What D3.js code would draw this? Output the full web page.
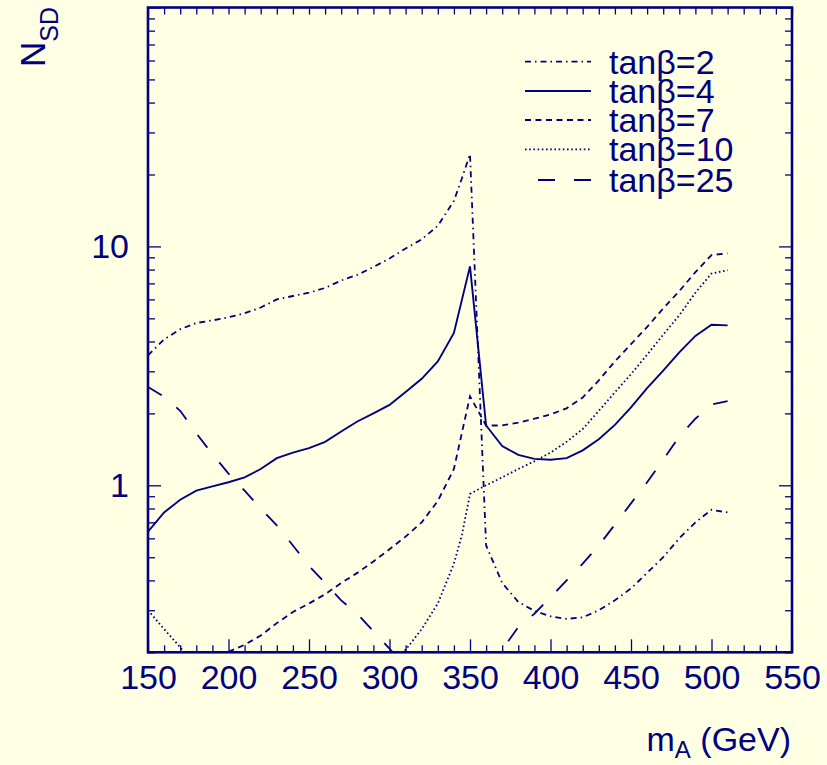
<!DOCTYPE html>
<html>
<head>
<meta charset="utf-8">
<script src="https://cdn.jsdelivr.net/npm/d3@7"></script>
<style>
  html, body { margin: 0; padding: 0; background: #ffffe4; }
  svg { display: block; }
  text { font-family: "Liberation Sans", Arial, Helvetica, sans-serif; fill: #000080; }
</style>
</head>
<body>
<svg id="chart" width="827" height="765"></svg>
<script>
// ---------- data ----------
const xTicksMajor = [150, 200, 250, 300, 350, 400, 450, 500, 550];
const yTicksMajor = [1, 10, 100];
const yTickLabels = ["1", "10", ""];

const tb2_mA = [150,160,170,180,190,200,210,220,230,240,250,260,270,280,290,300,310,320,330,340,345,350,360,370,380,390,400,410,420,430,440,450,460,470,480,490,500,510];
const tb2_N  = [3.5,4.08,4.5,4.78,4.9,5.05,5.25,5.55,6.0,6.2,6.4,6.7,7.2,7.6,8.2,8.9,9.8,10.7,12.2,15.5,19.3,24.3,0.56,0.39,0.325,0.298,0.283,0.276,0.28,0.30,0.33,0.37,0.43,0.5,0.6,0.7,0.79,0.77];

const tb4_mA = [150,160,170,180,190,200,210,220,230,240,250,260,270,280,290,300,310,320,330,340,350,360,370,380,390,400,410,420,430,440,450,460,470,480,490,500,510];
const tb4_N  = [0.64,0.77,0.87,0.95,0.99,1.03,1.08,1.17,1.3,1.37,1.43,1.52,1.68,1.85,2.0,2.17,2.46,2.79,3.3,4.34,8.25,1.78,1.46,1.34,1.29,1.28,1.30,1.40,1.56,1.79,2.12,2.55,3.02,3.6,4.22,4.7,4.67];

const tb7_mA = [200,210,220,230,240,250,260,270,280,290,300,310,320,330,340,350,360,370,380,390,400,410,420,430,440,450,460,470,480,490,500,510];
const tb7_N  = [0.201,0.215,0.235,0.265,0.295,0.32,0.35,0.39,0.43,0.48,0.54,0.61,0.70,0.86,1.17,2.36,1.78,1.78,1.83,1.9,1.98,2.1,2.33,2.75,3.3,3.9,4.6,5.5,6.5,7.8,9.2,9.35];

const tb10_mA = [150,160,170,175,305,310,320,330,340,345,350,360,370,380,390,400,410,420,430,440,450,460,470,480,490,500,510];
const tb10_N  = [0.30,0.25,0.21,0.19,0.19,0.205,0.25,0.32,0.47,0.62,0.92,1.0,1.08,1.17,1.26,1.37,1.52,1.72,2.05,2.45,2.92,3.52,4.27,5.15,6.4,7.7,7.95];

const tb25_mA = [150,160,170,180,190,200,210,220,230,240,250,260,270,280,290,300,305,365,370,380,390,400,410,420,430,440,450,460,470,480,490,500,510];
const tb25_N  = [2.58,2.35,2.05,1.65,1.35,1.12,0.95,0.8,0.68,0.56,0.46,0.39,0.33,0.29,0.245,0.207,0.19,0.185,0.205,0.255,0.29,0.34,0.40,0.47,0.56,0.685,0.84,1.03,1.28,1.6,1.9,2.18,2.25];

const seriesLabels = ["tanβ=2", "tanβ=4", "tanβ=7", "tanβ=10", "tanβ=25"];

// ---------- layout ----------
const col = "#000080";
const L = 148, R = 792, T = 7.5, B = 652.3;
const svg = d3.select("#chart");
svg.append("rect").attr("width", 827).attr("height", 765).attr("fill", "#ffffe4");

const x = d3.scaleLinear().domain([150, 550]).range([L, R]);
const y = d3.scaleLog().domain([0.2, 100]).range([B, T]);

svg.append("defs").append("clipPath").attr("id", "clip")
  .append("rect").attr("x", L).attr("y", T).attr("width", R - L).attr("height", B - T);

// ---------- axes ----------
const xMinor = d3.range(150, 551, 10).filter(v => !xTicksMajor.includes(v));
const yMinor = [];
[0.1, 1, 10].forEach(d => { for (let k = 2; k <= 9; k++) { const v = +(k * d).toPrecision(3); if (v >= 0.2 && v < 100) yMinor.push(v); } });

function styleAxis(g) {
  g.select(".domain").remove();
  g.selectAll(".tick line").attr("stroke", col).attr("stroke-width", 1.3);
  g.selectAll("text").attr("fill", col).style("font-size", "34px").style("font-family", "'Liberation Sans', Arial, sans-serif");
}

// bottom
svg.append("g").attr("transform", `translate(0,${B})`)
  .call(d3.axisBottom(x).tickValues(xTicksMajor).tickSize(-13).tickPadding(13).tickFormat(d3.format("d")))
  .call(styleAxis);
svg.append("g").attr("transform", `translate(0,${B})`)
  .call(d3.axisBottom(x).tickValues(xMinor).tickSize(-7).tickFormat(""))
  .call(styleAxis);
// top
svg.append("g").attr("transform", `translate(0,${T})`)
  .call(d3.axisTop(x).tickValues(d3.range(150, 551, 10)).tickSize(-7).tickFormat(""))
  .call(styleAxis);
// left
svg.append("g").attr("transform", `translate(${L},0)`)
  .call(d3.axisLeft(y).tickValues(yTicksMajor).tickSize(-13).tickPadding(19).tickFormat((d, i) => yTickLabels[i]))
  .call(styleAxis);
svg.append("g").attr("transform", `translate(${L},0)`)
  .call(d3.axisLeft(y).tickValues(yMinor).tickSize(-7).tickFormat(""))
  .call(styleAxis);
// right
svg.append("g").attr("transform", `translate(${R},0)`)
  .call(d3.axisRight(y).tickValues(yTicksMajor).tickSize(-13).tickFormat(""))
  .call(styleAxis);
svg.append("g").attr("transform", `translate(${R},0)`)
  .call(d3.axisRight(y).tickValues(yMinor).tickSize(-7).tickFormat(""))
  .call(styleAxis);

// frame
svg.append("rect").attr("x", L).attr("y", T).attr("width", R - L).attr("height", B - T)
  .attr("fill", "none").attr("stroke", col).attr("stroke-width", 2.6);

// ---------- curves ----------
const styles = [
  { dash: "6,4,1.5,4", w: 1.8 },
  { dash: null, w: 1.9 },
  { dash: "6,4.5", w: 1.8 },
  { dash: "1.6,2.6", w: 1.8 },
  { dash: "16,19", w: 1.8 }
];
const seriesData = [
  d3.zip(tb2_mA, tb2_N), d3.zip(tb4_mA, tb4_N), d3.zip(tb7_mA, tb7_N),
  d3.zip(tb10_mA, tb10_N), d3.zip(tb25_mA, tb25_N)
];
const line = d3.line().x(d => x(d[0])).y(d => y(d[1]));
const curves = svg.append("g").attr("clip-path", "url(#clip)");
seriesData.forEach((s, i) => {
  curves.append("path").attr("d", line(s)).attr("fill", "none")
    .attr("stroke", col).attr("stroke-width", styles[i].w)
    .attr("stroke-dasharray", styles[i].dash);
});

// ---------- legend ----------
const legY = [61.7, 91, 120, 149.3, 180];
seriesLabels.forEach((lab, i) => {
  const x0 = i === 4 ? 538 : 525;
  svg.append("line").attr("x1", x0).attr("x2", 591).attr("y1", legY[i]).attr("y2", legY[i])
    .attr("stroke", col).attr("stroke-width", styles[i].w)
    .attr("stroke-dasharray", i === 4 ? "17,19" : styles[i].dash);
  svg.append("text").attr("x", 609).attr("y", legY[i] + 12).style("font-size", "34px").text(lab);
});

// ---------- titles ----------
const xt = svg.append("text").attr("x", 791).attr("y", 751).attr("text-anchor", "end").style("font-size", "34px");
xt.append("tspan").text("m");
xt.append("tspan").attr("dy", 7).style("font-size", "24px").text("A");
xt.append("tspan").attr("dy", -7).text(" (GeV)");

const yt = svg.append("text").attr("transform", "translate(45,67) rotate(-90)").style("font-size", "35px");
yt.append("tspan").text("N");
yt.append("tspan").attr("dy", 13).style("font-size", "25px").text("SD");
</script>
</body>
</html>
